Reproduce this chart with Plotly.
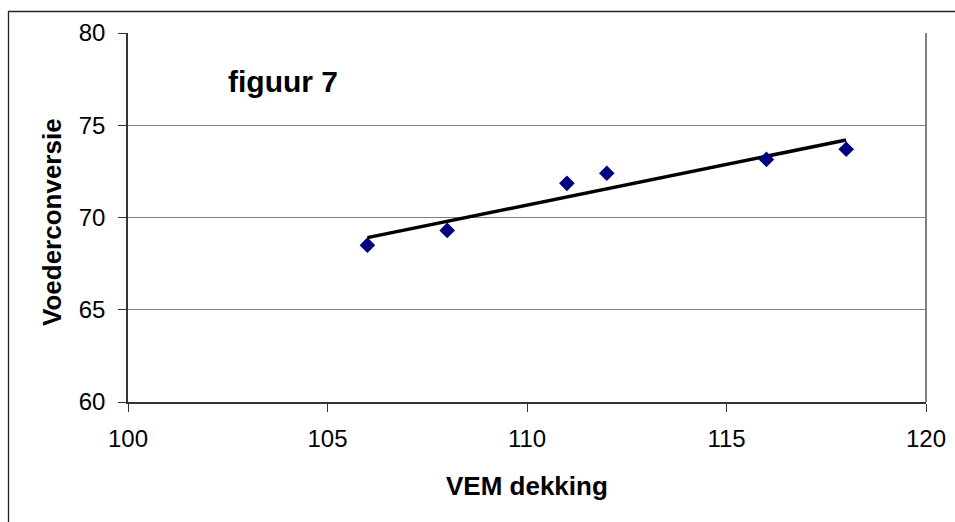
import numpy as np
import plotly.graph_objects as go

vem_dekking = [106, 108, 111, 112, 116, 118]
voederconversie = [68.5, 69.3, 71.85, 72.4, 73.15, 73.7]
x_ticks = [100, 105, 110, 115, 120]
y_ticks = [60, 65, 70, 75, 80]

slope, intercept = np.polyfit(vem_dekking, voederconversie, 1)
trend_x = [min(vem_dekking), max(vem_dekking)]
trend_y = [slope * v + intercept for v in trend_x]

W, H = 955, 522
L, R, T, B = 128, 29, 33, 120
pw, ph = W - L - R, H - T - B

def px(xp):
    return (xp - L) / pw

def py(yp):
    return 1 - (yp - T) / ph

fig = go.Figure()
fig.add_trace(go.Scatter(x=trend_x, y=trend_y, mode="lines",
                         line=dict(color="black", width=3.5), showlegend=False))
fig.add_trace(go.Scatter(x=vem_dekking, y=voederconversie, mode="markers",
                         marker=dict(symbol="diamond", size=12, color="#000080"),
                         showlegend=False))

font = "Liberation Sans, Arial, sans-serif"
fig.update_layout(
    width=W, height=H,
    margin=dict(l=L, r=R, t=T, b=B, autoexpand=False),
    paper_bgcolor="white", plot_bgcolor="white",
    font=dict(family=font, size=24, color="black"),
    xaxis=dict(range=[100, 120], tickvals=x_ticks, showgrid=False, zeroline=False,
               showline=True, linecolor="#333333", linewidth=1.5,
               ticks="outside", ticklen=8, tickcolor="#333333", automargin=False,
               tickfont=dict(size=24), ticklabelstandoff=6),
    yaxis=dict(range=[60, 80], tickvals=y_ticks, showgrid=True, gridcolor="#808080",
               gridwidth=1.2, zeroline=False,
               showline=True, linecolor="#333333", linewidth=1.5,
               ticks="outside", ticklen=8, tickcolor="#333333", automargin=False,
               tickfont=dict(size=24), ticklabelstandoff=8),
    shapes=[
        dict(type="line", xref="paper", yref="paper", x0=1, x1=1, y0=0, y1=1,
             line=dict(color="#808080", width=2)),
        dict(type="rect", xref="paper", yref="paper", x0=px(8.5), x1=1.2,
             y0=-0.6, y1=py(11.5), line=dict(color="#222222", width=1.3),
             layer="below"),
    ],
    annotations=[
        dict(text="<b>figuur 7</b>", xref="paper", yref="paper",
             x=px(226), y=py(82), xanchor="left", yanchor="middle",
             showarrow=False, font=dict(size=30, family=font)),
        dict(text="<b>VEM dekking</b>", xref="paper", yref="paper",
             x=0.5, y=py(486), xanchor="center", yanchor="middle",
             showarrow=False, font=dict(size=26, family=font)),
        dict(text="<b>Voederconversie</b>", xref="paper", yref="paper",
             x=px(52), y=py(222), xanchor="center", yanchor="middle",
             textangle=-90, showarrow=False, font=dict(size=26, family=font)),
    ],
)

fig.write_html("out.html")
